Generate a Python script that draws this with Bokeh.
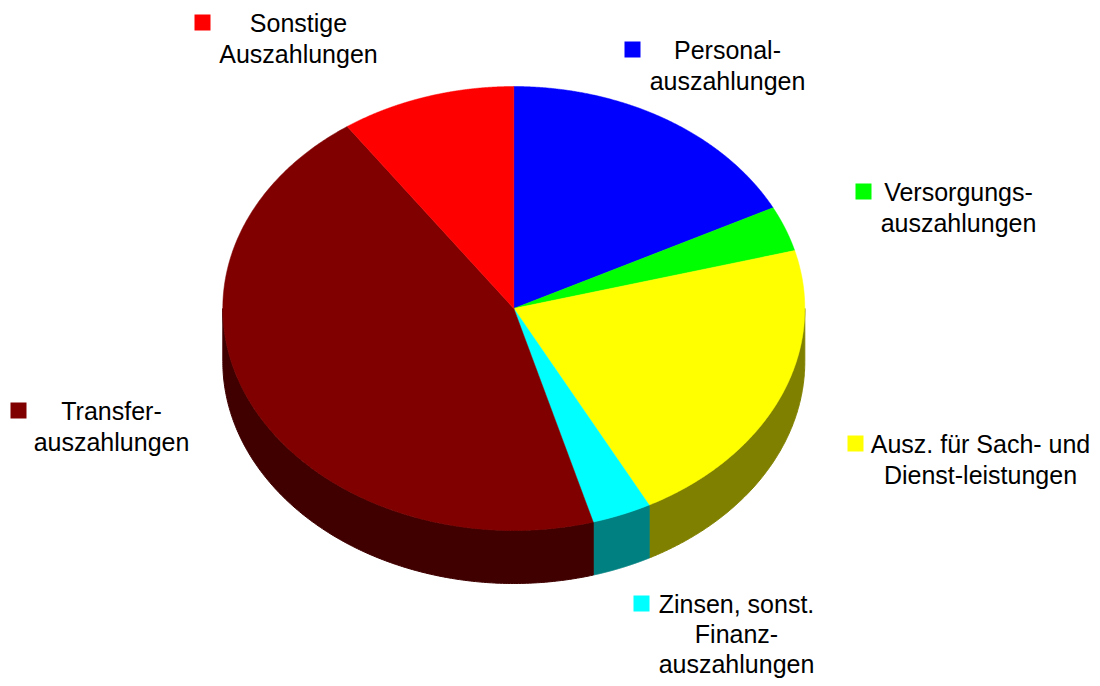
import numpy as np
from bokeh.plotting import figure
from bokeh.models import Range1d
from bokeh.core.properties import value
from bokeh.embed import file_html
from bokeh.resources import INLINE

# ---- data (share of total payouts, %), clockwise from 12 o'clock ----
categories = ["Personalauszahlungen", "Versorgungsauszahlungen",
              "Ausz. für Sach- und Dienstleistungen",
              "Zinsen, sonst. Finanzauszahlungen",
              "Transferauszahlungen", "Sonstige Auszahlungen"]
shares = [17.5, 3.3, 21.5, 3.3, 44.7, 9.7]
label_lines = [["Personal-", "auszahlungen"],
               ["Versorgungs-", "auszahlungen"],
               ["Ausz. für Sach- und", "Dienst-leistungen"],
               ["Zinsen, sonst.", "Finanz-", "auszahlungen"],
               ["Transfer-", "auszahlungen"],
               ["Sonstige", "Auszahlungen"]]

# ---- styles / layout ----
top_colors = ["#0000FF", "#00FF00", "#FFFF00", "#00FFFF", "#800000", "#FF0000"]
side_colors = ["#000080", "#008000", "#808000", "#008080", "#400000", "#800000"]
CX, CY, RX, RY, DEPTH = 513.3, 308.0, 291.0, 222.0, 53.0
# label layout: text centre x, first line centre y, line spacing, key square centre (x, y)
label_cx = [727, 958, 980, 736, 111, 298]
label_y0 = [49, 191, 443, 603, 410, 22]
label_lh = [31, 31, 31, 30, 31, 31]
key_xy = [(632, 49), (863, 191), (855, 443), (641, 603), (18, 410), (202, 22)]
FONT = value("Liberation Sans")

p = figure(width=1092, height=678, x_range=Range1d(0, 1092), y_range=Range1d(678, 0),
           output_backend="svg", toolbar_location=None, min_border=0)
p.axis.visible = False
p.grid.visible = False
p.outline_line_color = None
p.background_fill_color = "white"

total = float(sum(shares))
ends = np.cumsum(shares) / total * 360.0
starts = np.concatenate([[0.0], ends[:-1]])


def ell(theta_deg, dy=0.0):
    t = np.radians(theta_deg)
    return CX + RX * np.sin(t), CY - RY * np.cos(t) + dy


# side walls (front half only: 90..270 deg)
sx, sy, sc = [], [], []
for a0, a1, col in zip(starts, ends, side_colors):
    b0, b1 = max(a0, 90.0), min(a1, 270.0)
    if b1 <= b0:
        continue
    th = np.linspace(b0, b1, 200)
    x1, y1 = ell(th)
    x2, y2 = ell(th[::-1], DEPTH)
    sx.append(np.concatenate([x1, x2]).tolist())
    sy.append(np.concatenate([y1, y2]).tolist())
    sc.append(col)
p.patches(xs=sx, ys=sy, fill_color=sc, line_color=sc, line_width=1)

# top faces
tx, ty = [], []
for a0, a1 in zip(starts, ends):
    th = np.linspace(a0, a1, 300)
    x1, y1 = ell(th)
    tx.append([CX] + x1.tolist())
    ty.append([CY] + y1.tolist())
p.patches(xs=tx, ys=ty, fill_color=top_colors, line_color=top_colors, line_width=0.5)

# labels
lx, ly, lt = [], [], []
for lines, cx, y0, lh in zip(label_lines, label_cx, label_y0, label_lh):
    for k, s in enumerate(lines):
        lx.append(cx)
        ly.append(y0 + k * lh)
        lt.append(s)
p.text(x=lx, y=ly, text=lt, text_font=FONT, text_font_size="25px",
       text_align="center", text_baseline="middle", text_color="black")

kx = [k[0] for k in key_xy]
ky = [k[1] for k in key_xy]
p.rect(x=kx, y=ky, width=16, height=16, fill_color=top_colors, line_color=None)

open("out.html", "w").write(file_html(p, INLINE))
